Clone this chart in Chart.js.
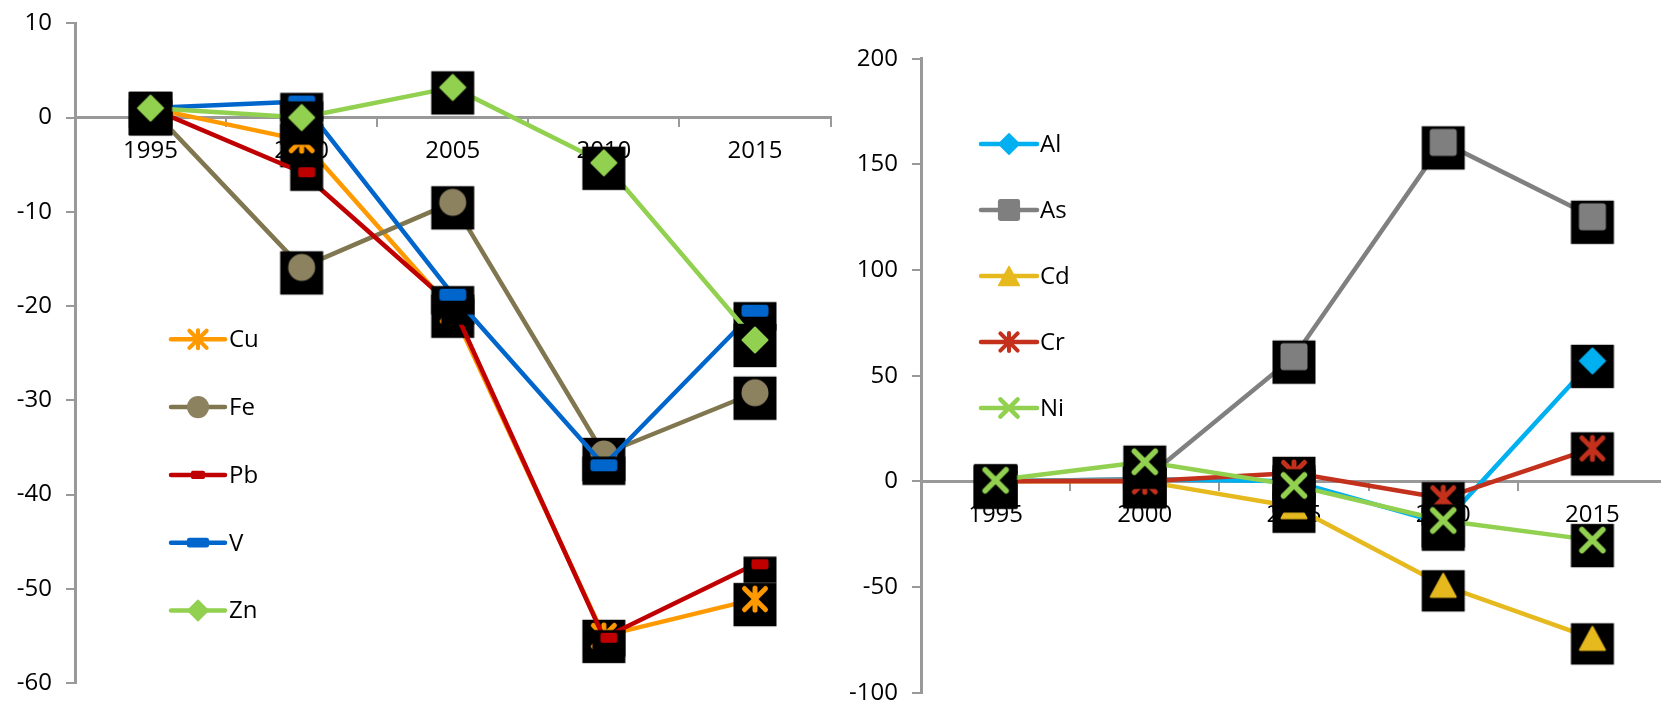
<!DOCTYPE html>
<html>
<head>
<meta charset="utf-8">
<script src="https://cdn.jsdelivr.net/npm/chart.js@4.4.1/dist/chart.umd.min.js"></script>
<style>
  html, body { margin: 0; padding: 0; background: #fff; overflow: hidden; }
  #wrap { position: relative; width: 1661px; height: 704px; overflow: hidden; background: #fff; }
  #left { position: absolute; left: 0; top: 0; }
  #right { position: absolute; left: 840px; top: 0; }
</style>
</head>
<body>
<div id="wrap">
  <canvas id="left" width="840" height="704"></canvas>
  <canvas id="right" width="840" height="720"></canvas>
</div>
<script>
// ---- data ----
const years = ['1995', '2000', '2005', '2010', '2015'];

// left panel: Cu, Fe, Pb, V, Zn
const cu = [1, -2.4, -20.5, -55.0, -51.1];
const fe = [1, -15.9, -9.0, -35.7, -29.2];
const pb = [1, -5.8, -20.0, -55.2, -47.4];
const v  = [1, 1.7, -18.8, -36.9, -20.5];
const zn = [1, 0.0, 3.2, -4.8, -23.6];

// right panel: Al, As, Cd, Cr, Ni
const al = [0, 1, 0, -20.0, 57.0];
const as = [0, 1, 59.0, 160.4, 125.2];
const cd = [0, 0, -12.0, -49.2, -74.3];
const cr = [0, 0, 4.0, -8.0, 15.6];
const ni = [0.5, 9.3, -1.9, -18.5, -27.8];

// value axis ranges: [min, max, step]
const leftRange = [-60, 10, 10];
const rightRange = [-100, 200, 50];

// ---- styling ----
const FONT = '"Open Sans", "Noto Sans", sans-serif';
const AXIS = '#999999';

// marker bounding sizes [w, h]
const SIZE = {
  star: [27, 27], circle: [27, 27], bar: [17, 10], dash: [27, 12],
  diamond: [27, 27], square: [27, 27], triangle: [27, 25], cross: [27, 27]
};

function rr(g, x, y, w, h, r) {
  g.beginPath();
  g.moveTo(x + r, y);
  g.lineTo(x + w - r, y); g.quadraticCurveTo(x + w, y, x + w, y + r);
  g.lineTo(x + w, y + h - r); g.quadraticCurveTo(x + w, y + h, x + w - r, y + h);
  g.lineTo(x + r, y + h); g.quadraticCurveTo(x, y + h, x, y + h - r);
  g.lineTo(x, y + r); g.quadraticCurveTo(x, y, x + r, y);
  g.closePath();
}

function drawMarker(g, kind, color, s) {
  g.save();
  g.fillStyle = color; g.strokeStyle = color;
  g.lineCap = 'round'; g.lineJoin = 'round';
  switch (kind) {
    case 'circle':
      g.beginPath(); g.arc(0, 0, 13.5 * s, 0, Math.PI * 2); g.fill(); break;
    case 'diamond':
      g.beginPath();
      g.moveTo(0, -12.5 * s); g.lineTo(12.5 * s, 0); g.lineTo(0, 12.5 * s); g.lineTo(-12.5 * s, 0);
      g.closePath(); g.lineWidth = 2 * s; g.fill(); g.stroke(); break;
    case 'square':
      rr(g, -13.5 * s, -13.5 * s, 27 * s, 27 * s, 3 * s); g.fill(); break;
    case 'triangle':
      g.beginPath();
      g.moveTo(0, -11.5 * s); g.lineTo(12.5 * s, 11.5 * s); g.lineTo(-12.5 * s, 11.5 * s);
      g.closePath(); g.lineWidth = 2 * s; g.fill(); g.stroke(); break;
    case 'dash':
      rr(g, -13.5 * s, -6 * s, 27 * s, 12 * s, 3 * s); g.fill(); break;
    case 'bar':
      rr(g, -8.5 * s, -5 * s, 17 * s, 10 * s, 2 * s); g.fill(); break;
    case 'star':
      g.lineWidth = 5 * s;
      g.beginPath();
      g.moveTo(-10.5 * s, -10.5 * s); g.lineTo(10.5 * s, 10.5 * s);
      g.moveTo(10.5 * s, -10.5 * s); g.lineTo(-10.5 * s, 10.5 * s);
      g.moveTo(0, -11 * s); g.lineTo(0, 11 * s);
      g.stroke(); break;
    case 'cross':
      g.lineWidth = 5.5 * s;
      g.beginPath();
      g.moveTo(-10.5 * s, -10.5 * s); g.lineTo(10.5 * s, 10.5 * s);
      g.moveTo(10.5 * s, -10.5 * s); g.lineTo(-10.5 * s, 10.5 * s);
      g.stroke(); break;
  }
  g.restore();
}

// point image: marker on a dark backing plate (plate sits a little low)
function pointImage(kind, color, dx) {
  const [mw, mh] = SIZE[kind];
  const bw = mw + 16, top = -mh / 2 - 2.7, bot = mh / 2 + 13.7;
  const halfH = Math.ceil(Math.max(-top, bot)) + 1;
  const halfW = Math.ceil(bw / 2 + Math.abs(dx)) + 1;
  const c = document.createElement('canvas');
  c.width = halfW * 2; c.height = halfH * 2;
  const g = c.getContext('2d');
  g.translate(halfW + dx, halfH);
  g.fillStyle = '#000';
  g.fillRect(-bw / 2, top, bw, bot - top);
  drawMarker(g, kind, color, 1);
  return c;
}

function series(label, data, line, marker, kind, dx) {
  return { label, data, line, marker, kind, dx: dx || 0 };
}

const leftSeries = [
  series('Cu', cu, '#FF9900', '#FF9900', 'star'),
  series('Fe', fe, '#80764F', '#8C8260', 'circle'),
  series('Pb', pb, '#C00000', '#C00000', 'bar', 5),
  series('V',  v,  '#0066CC', '#0066CC', 'dash'),
  series('Zn', zn, '#92D050', '#92D050', 'diamond')
];
const rightSeries = [
  series('Al', al, '#00B0F0', '#00B0F0', 'diamond'),
  series('As', as, '#808080', '#7F7F7F', 'square'),
  series('Cd', cd, '#E6B91E', '#E6B91E', 'triangle'),
  series('Cr', cr, '#C3301C', '#C3301C', 'star'),
  series('Ni', ni, '#92D050', '#92D050', 'cross')
];

function datasets(list) {
  return list.map((s, i) => ({
    label: s.label,
    data: s.data,
    borderColor: s.line,
    backgroundColor: s.line,
    borderWidth: 4.5,
    borderJoinStyle: 'round',
    borderCapStyle: 'round',
    tension: 0,
    fill: false,
    clip: false,
    order: list.length - i,
    pointStyle: pointImage(s.kind, s.marker, s.dx),
    pointRadius: 5,
    pointHoverRadius: 5
  }));
}

// vertical key drawn inside the plot area
function sideLegend(list, lx0, lx1, tx, y0, dy) {
  return {
    id: 'sideLegend',
    afterDatasetsDraw(chart) {
      const g = chart.ctx;
      g.save();
      list.forEach((s, i) => {
        const y = y0 + i * dy;
        g.strokeStyle = s.line; g.lineWidth = 4.5; g.lineCap = 'round';
        g.beginPath(); g.moveTo(lx0, y); g.lineTo(lx1, y); g.stroke();
        g.save(); g.translate((lx0 + lx1) / 2, y);
        drawMarker(g, s.kind, s.marker, 0.82);
        g.restore();
        g.fillStyle = '#000';
        g.font = '24px ' + FONT;
        g.textAlign = 'left'; g.textBaseline = 'middle';
        g.fillText(s.label, tx, y + 1);
      });
      g.restore();
    }
  };
}

function scales(range, yWidth) {
  return {
    x: {
      type: 'category',
      offset: true,
      position: { y: 0 },
      afterFit: (s) => { s.height = 0; s.paddingLeft = 0; s.paddingRight = 0; },
      grid: { display: true, drawOnChartArea: false, drawTicks: true, offset: true, tickLength: 8, color: AXIS, lineWidth: 2 },
      border: { display: true, color: AXIS, width: 3 },
      ticks: { color: '#000', font: { family: FONT, size: 24 }, padding: 11, maxRotation: 0, autoSkip: false }
    },
    y: {
      min: range[0], max: range[1],
      afterFit: (s) => { s.width = yWidth; s.paddingTop = 0; s.paddingBottom = 0; },
      grid: { display: true, drawOnChartArea: false, drawTicks: true, tickLength: 9, color: AXIS, lineWidth: 2 },
      border: { display: true, color: AXIS, width: 3 },
      ticks: { stepSize: range[2], color: '#000', font: { family: FONT, size: 24 }, padding: 14 }
    }
  };
}

function build(id, list, range, yWidth, padding, legend) {
  return new Chart(document.getElementById(id), {
    type: 'line',
    data: { labels: years, datasets: datasets(list) },
    options: {
      responsive: false,
      animation: false,
      devicePixelRatio: 1,
      layout: { padding },
      plugins: { legend: { display: false }, tooltip: { enabled: false } },
      events: [],
      scales: scales(range, yWidth)
    },
    plugins: [legend]
  });
}

build('left', leftSeries, leftRange, 75,
  { left: 0, top: 23.3, right: 8, bottom: 21 },
  sideLegend(leftSeries, 171, 225, 229, 339.3, 67.8));

build('right', rightSeries, rightRange, 81,
  { left: 0, top: 58.7, right: 13, bottom: 27.3 },
  sideLegend(rightSeries, 141, 197, 200, 144, 66));
</script>
</body>
</html>
